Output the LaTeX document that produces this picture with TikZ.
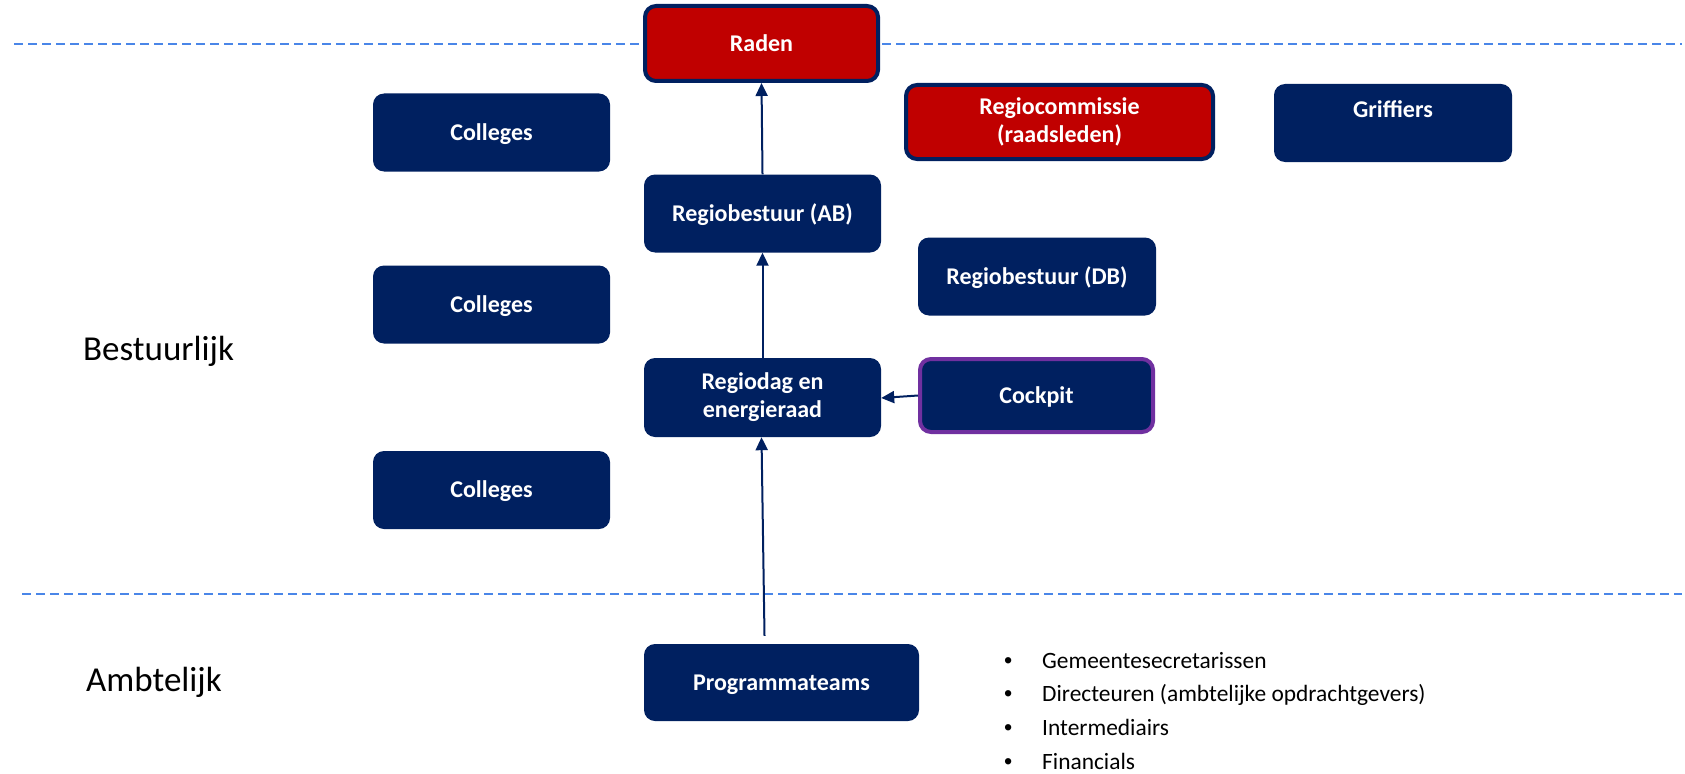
\documentclass[tikz,border=0pt]{standalone}
\usepackage{fontspec}
\setmainfont{Carlito}
\newfontfamily\bulfont{Liberation Sans}
\usetikzlibrary{arrows.meta,calc}
\definecolor{navy}{RGB}{0,32,96}
\definecolor{boxred}{RGB}{192,0,0}
\definecolor{purp}{RGB}{112,48,160}
\definecolor{dashblue}{RGB}{74,134,232}
\begin{document}
\begin{tikzpicture}[x=1pt,y=-1pt,
  box/.style={fill=navy, rounded corners=11pt, text=white, align=center, inner sep=0pt,
    font=\fontsize{24}{28}\selectfont\bfseries, minimum width=237pt, minimum height=78pt},
  single/.style={text height=15.5pt, text depth=0pt},
  bordered/.style={box, line width=4pt, minimum width=233pt, minimum height=75pt},
  conn/.style={draw=navy, line width=2pt, -{Triangle[length=13pt,width=12pt]}},
  dashline/.style={draw=dashblue, line width=2pt, dash pattern=on 9pt off 5pt},
  side/.style={font=\fontsize{35}{42}\selectfont, anchor=base west, inner sep=0pt},
  bullet/.style={font=\fontsize{23.4}{28}\selectfont, anchor=base west, inner sep=0pt}
]
\useasboundingbox (0,0) rectangle (1685,773);
\fill[white] (0,0) rectangle (1685,773);

% dashed separators
\coordinate (d1a) at (14,44);
\coordinate (d1b) at (1682,44);
\coordinate (d2a) at (22,594);
\coordinate (d2b) at (1682,594);
\draw[dashline] (d1a) -- (d1b);
\draw[dashline] (d2a) -- (d2b);

% boxes
\node[bordered, single, draw=navy, fill=boxred] (raden) at (761.5,43.5) {Raden};
\node[bordered, draw=navy, fill=boxred, minimum width=307pt, minimum height=74pt] (regiocomm) at (1059.5,122) {Regiocommissie\\(raadsleden)};
\node[box, minimum width=238pt, text height=16pt, text depth=27pt] (griffiers) at (1393,123) {Griffiers};
\node[box, single] (col1) at (491.5,132.5) {Colleges};
\node[box, single] (ab) at (762.5,213.5) {Regiobestuur (AB)};
\node[box, single, minimum width=238pt] (db) at (1037,276.5) {Regiobestuur (DB)};
\node[box, single] (col2) at (491.5,304.5) {Colleges};
\node[box, minimum height=79pt] (regiodag) at (762.5,397.5) {Regiodag en\\energieraad};
\node[bordered, single, draw=purp, minimum height=73pt] (cockpit) at (1036.5,395.5) {Cockpit};
\node[box, single] (col3) at (491.5,490) {Colleges};
\node[box, single, minimum width=275pt, minimum height=77pt] (prog) at (781.5,682.5) {Programmateams};

% connectors
\draw[conn] (ab.north) -- (raden.south);
\draw[conn] (regiodag.north) -- (ab.south);
\coordinate (pstart) at ($(prog.north)+(-17,-8)$);
\draw[conn] (pstart) -- ($(regiodag.south)+(-1,0)$);
\draw[conn] (cockpit.west) -- ($(regiodag.east)+(0,0.5)$);

% side labels
\node[side] (bestuurlijk) at (83,360) {Bestuurlijk};
\node[side] (ambtelijk) at (86,691) {Ambtelijk};

% bullet list
\node[bullet] (b1) at (1001,668) {\makebox[41pt][l]{\hspace{3pt}{\bulfont •}}Gemeentesecretarissen};
\node[bullet] (b2) at (1001,701.7) {\makebox[41pt][l]{\hspace{3pt}{\bulfont •}}Directeuren (ambtelijke opdrachtgevers)};
\node[bullet] (b3) at (1001,735.4) {\makebox[41pt][l]{\hspace{3pt}{\bulfont •}}Intermediairs};
\node[bullet] (b4) at (1001,769) {\makebox[41pt][l]{\hspace{3pt}{\bulfont •}}Financials};
\end{tikzpicture}
\end{document}
